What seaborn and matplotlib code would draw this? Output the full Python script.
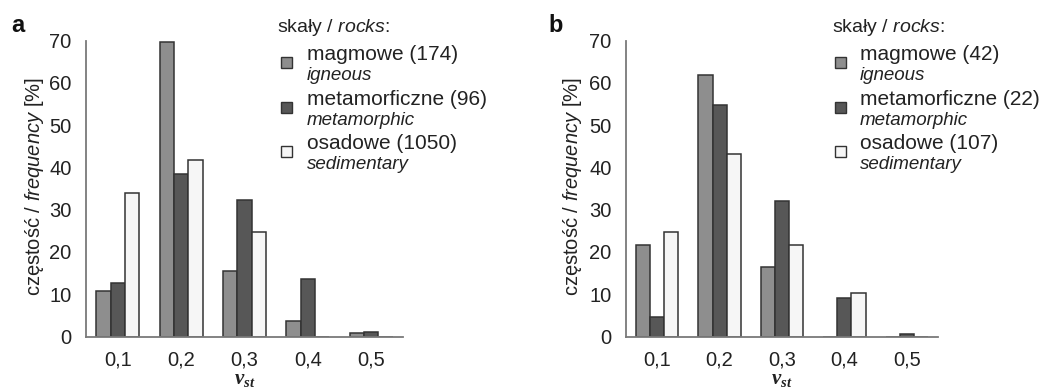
import numpy as np
import pandas as pd
import matplotlib
matplotlib.use("Agg")
import matplotlib.pyplot as plt
import seaborn as sns
from matplotlib.patches import Rectangle

# ---- data ----
categories = ["0,1", "0,2", "0,3", "0,4", "0,5"]
rock_keys = ["magmowe", "metamorficzne", "osadowe"]

a_magmowe = [10.8, 69.8, 15.5, 3.6, 0.8]
a_metamorficzne = [12.6, 38.5, 32.3, 13.7, 1.1]
a_osadowe = [33.9, 41.7, 24.8, 0.0, 0.0]

b_magmowe = [21.6, 61.9, 16.5, 0.0, 0.0]
b_metamorficzne = [4.7, 54.7, 32.0, 9.1, 0.5]
b_osadowe = [24.8, 43.2, 21.6, 10.4, 0.0]

a_counts = [174, 96, 1050]
b_counts = [42, 22, 107]
english = ["igneous", "metamorphic", "sedimentary"]

yticks = [0, 10, 20, 30, 40, 50, 60, 70]

# ---- style ----
sns.set_style("white")
plt.rcParams["font.family"] = ["Liberation Sans", "DejaVu Sans"]
plt.rcParams["mathtext.fontset"] = "custom"
plt.rcParams["mathtext.rm"] = "Liberation Sans"
plt.rcParams["mathtext.it"] = "Liberation Sans:italic"
plt.rcParams["mathtext.bf"] = "Liberation Serif:italic:bold"

colors = {"magmowe": "#8e8e8e", "metamorficzne": "#575757", "osadowe": "#f6f6f6"}
edge = "#333333"
spine_col = "#7a7a7a"
txt_col = "#222222"

W, H = 1045, 390
fig = plt.figure(figsize=(W / 100, H / 100), dpi=100)
fig.patch.set_facecolor("white")


def make_df(m, me, o):
    rows = []
    for vals, key in zip([m, me, o], rock_keys):
        for c, v in zip(categories, vals):
            rows.append({"vst": c, "freq": v, "rock": key})
    return pd.DataFrame(rows)


def px(x, y):
    return x / W, 1 - y / H


panels = [
    dict(letter="a", left=86, right=403, data=(a_magmowe, a_metamorficzne, a_osadowe),
         counts=a_counts, letter_x=11, ylab_x=35, leg_x=277, sq_x=281, text_x=307),
    dict(letter="b", left=626, right=938, data=(b_magmowe, b_metamorficzne, b_osadowe),
         counts=b_counts, letter_x=548, ylab_x=573, leg_x=832, sq_x=835, text_x=860),
]

top_px, bot_px = 40.7, 336.5
for p in panels:
    ax = fig.add_axes([p["left"] / W, 1 - bot_px / H, (p["right"] - p["left"]) / W, (bot_px - top_px) / H])
    df = make_df(*p["data"])
    sns.barplot(data=df, x="vst", y="freq", hue="rock", hue_order=rock_keys, order=categories,
                palette=colors, width=0.68, gap=0, edgecolor=edge, linewidth=1.1,
                legend=False, ax=ax, errorbar=None, saturation=1)
    ax.set_xlim(-0.5, len(categories) - 0.5)
    ax.set_ylim(0, 70)
    ax.set_yticks(yticks)
    ax.set_yticklabels([str(t) for t in yticks])
    ax.set_xticks(range(len(categories)))
    ax.set_xticklabels(categories)
    ax.set_xticks(np.arange(-0.5, len(categories), 1.0), minor=True)
    ax.tick_params(axis="x", which="major", length=0, labelsize=14.5, pad=10, labelcolor=txt_col)
    ax.tick_params(axis="x", which="minor", length=6, direction="inout", color=spine_col, width=1.2)
    ax.tick_params(axis="y", which="major", length=5, direction="inout", color=spine_col, width=1.2,
                   labelsize=14.5, pad=8, labelcolor=txt_col)
    for s in ["top", "right"]:
        ax.spines[s].set_visible(False)
    for s in ["left", "bottom"]:
        ax.spines[s].set_color(spine_col)
        ax.spines[s].set_linewidth(1.3)
    ax.set_xlabel("")
    ax.set_ylabel("")
    ax.set_facecolor("white")

    # y label
    fig.text(*px(p["ylab_x"], 187), r"częstość / $\mathit{frequency}$ [%]",
             rotation=90, ha="center", va="center", fontsize=14.5, color=txt_col)
    # x label
    cx = (p["left"] + p["right"]) / 2
    fig.text(*px(cx, 389), r"$\mathbf{v_{st}}$", ha="center", va="bottom", fontsize=15, color=txt_col)
    # panel letter
    fig.text(*px(p["letter_x"], 32), p["letter"], ha="left", va="baseline", fontsize=17,
             fontweight="bold", color="#111111")

    # legend
    fig.text(*px(p["leg_x"], 32), r"skały / $\mathit{rocks}$:", ha="left", va="baseline",
             fontsize=14, color=txt_col)
    base_main = [60, 105, 149]
    for i, key in enumerate(rock_keys):
        bm = base_main[i]
        fig.text(*px(p["text_x"], bm), f"{key} ({p['counts'][i]})", ha="left", va="baseline",
                 fontsize=15, color=txt_col)
        fig.text(*px(p["text_x"], bm + 20), english[i], ha="left", va="baseline",
                 fontsize=13.5, style="italic", color=txt_col)
        sq = 11
        x0, y0 = px(p["sq_x"], bm + 2 + sq / 2)
        fig.patches.append(Rectangle((x0, y0), sq / W, sq / H, transform=fig.transFigure,
                                     facecolor=colors[key], edgecolor=edge, linewidth=1.0))

fig.savefig("out.png", dpi=100, facecolor="white")
